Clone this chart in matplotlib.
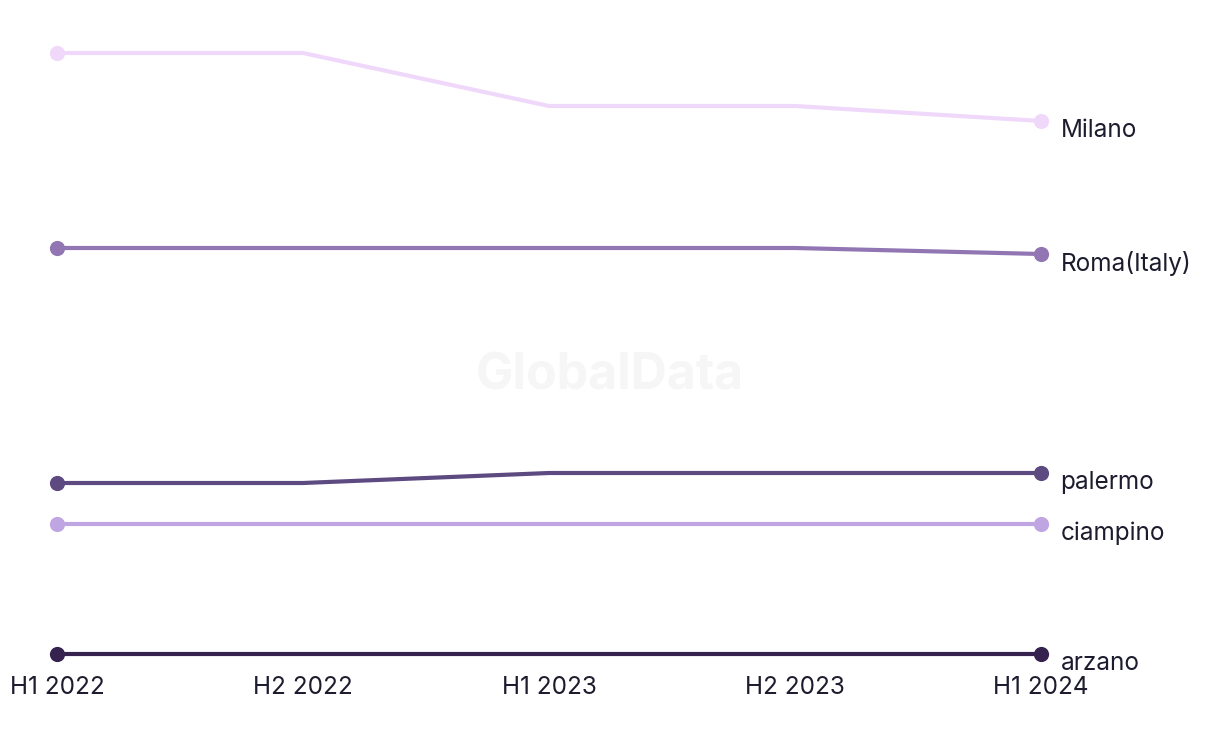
import matplotlib.pyplot as plt
import numpy as np

periods = ['H1 2022', 'H2 2022', 'H1 2023', 'H2 2023', 'H1 2024']
cities = ['Milano', 'Roma(Italy)', 'palermo', 'ciampino', 'arzano']
milano = [601, 601, 548, 548, 533]
roma = [406, 406, 406, 406, 400]
palermo = [171, 171, 181, 181, 181]
ciampino = [130, 130, 130, 130, 130]
arzano = [0, 0, 0, 0, 0]
series = [milano, roma, palermo, ciampino, arzano]
colors = ['#f0d8fb', '#9176b3', '#5d4a80', '#c0a5e3', '#36224f']

plt.rcParams['font.family'] = ['Inter', 'DejaVu Sans']
txt = '#1c1c2e'

fig = plt.figure(figsize=(12.2, 7.44), dpi=100)
ax = fig.add_axes([57 / 1220, 90 / 744, (1041 - 57) / 1220, (654 - 53) / 744])
x = np.arange(len(periods))

for name, vals, c in zip(cities, series, colors):
    ax.plot(x, vals, color=c, lw=3, clip_on=False, zorder=3)
    ax.scatter([x[0], x[-1]], [vals[0], vals[-1]], s=120, color=c, clip_on=False, zorder=4, linewidths=0)
    ax.annotate(name, (x[-1], vals[-1]), xytext=(14, -6.5), textcoords='offset points',
                ha='left', va='center', fontsize=17.5, color=txt, annotation_clip=False)

ax.text(0.5, 0.495, 'GlobalData', transform=fig.transFigure, ha='center', va='center',
        fontsize=36, fontweight='bold', color='#f6f6f6', zorder=0)

ax.set_xlim(0, 4)
ax.set_ylim(0, 601)
ax.set_xticks(x)
ax.set_xticklabels(periods, fontsize=17.5, color=txt)
ax.tick_params(axis='x', length=0, pad=16)
ax.set_yticks([])
for s in ax.spines.values():
    s.set_visible(False)

fig.savefig('out.png', dpi=100)
